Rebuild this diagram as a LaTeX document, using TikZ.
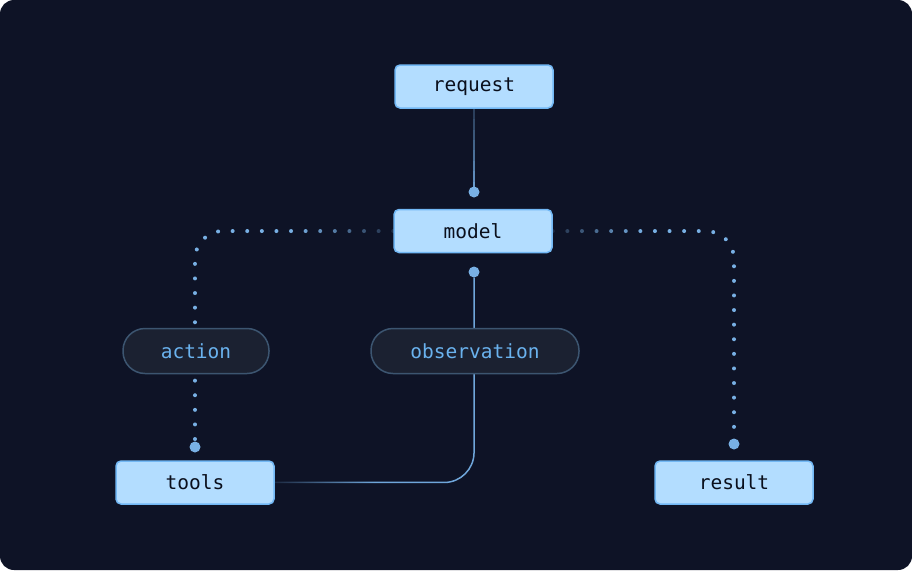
\documentclass[tikz,border=0pt]{standalone}
\usepackage{fontspec}
\setmonofont{DejaVu Sans Mono}
\usetikzlibrary{calc}
\usetikzlibrary{fadings}

\definecolor{bgcol}{HTML}{0E1326}
\definecolor{boxfill}{HTML}{B3DDFF}
\definecolor{boxline}{HTML}{72B8F5}
\definecolor{boxtext}{HTML}{0A0F1C}
\definecolor{pillfill}{HTML}{1B2131}
\definecolor{pillline}{HTML}{3C5570}
\definecolor{pilltext}{HTML}{6AB2EE}
\definecolor{dotcol}{HTML}{78B0E4}
\definecolor{linecol}{HTML}{6FA6DA}

\pgfdeclarelayer{canvas}
\pgfdeclarelayer{background}
\pgfsetlayers{canvas,background,main}

\tikzfading[name=fade east, left color=transparent!0, right color=transparent!85, middle color=transparent!0]
\tikzfading[name=fade west, left color=transparent!85, right color=transparent!0, middle color=transparent!0]

\begin{document}
\begin{tikzpicture}[x=1pt, y=-1pt,
    every node/.style={font=\ttfamily\fontsize{19.5}{22}\selectfont},
    box/.style={rectangle, rounded corners=5pt, fill=boxfill, draw=boxline,
        line width=1.5pt, minimum width=158pt, minimum height=43pt, text=boxtext},
    pill/.style={rectangle, rounded corners=22pt, fill=pillfill, draw=pillline,
        line width=1.5pt, minimum height=45pt, text=pilltext},
    joint/.style={circle, fill=dotcol, inner sep=0pt, minimum size=11pt},
    dotline/.style={dotcol, line width=4pt, line cap=round,
        dash pattern=on 0pt off 14.6pt, rounded corners=28pt},
    flowline/.style={linecol, line width=1.5pt}]

% --- canvas ---
\useasboundingbox (0,0) rectangle (912,570);
\begin{pgfonlayer}{canvas}
    \fill[bgcol, rounded corners=14pt] (0,0) rectangle (912,570);
\end{pgfonlayer}

% --- boxes ---
\node[box] (request) at (474,86.5) {request};
\node[box] (model) at (473,231) {model};
\node[box] (tools) at (195,482.5) {tools};
\node[box] (result) at (734,482.5) {result};

% --- edge labels ---
\node[pill, minimum width=146pt] (action) at (196,351) {action};
\node[pill, minimum width=208pt] (observation) at (475,351) {observation};

% --- joints ---
\node[joint] (dot_model_in) at (474,192) {};
\node[joint] (dot_model_out) at (474,272) {};
\node[joint] (dot_tools) at (195,447) {};
\node[joint] (dot_result) at (734,444) {};

% --- connectors (behind the labels) ---
\begin{pgfonlayer}{background}
    % request -> model, fading in from the top
    \foreach \a/\b/\c in {0/0.125/30, 0.125/0.25/38, 0.25/0.375/46, 0.375/0.5/55,
                          0.5/0.625/64, 0.625/0.75/73, 0.75/0.875/82, 0.875/1/92}
        \draw[flowline, linecol!\c!bgcol]
            ($(request.south)!\a!(dot_model_in)$) -- ($(request.south)!\b!(dot_model_in)$);

    % model -> action -> tools
    \draw[dotline, path fading=fade east] (model.west) -| (dot_tools);

    % model -> result
    \draw[dotline, path fading=fade west] (model.east) -| (dot_result);

    % tools -> observation -> model
    \draw[flowline, rounded corners=30pt, path fading=fade west]
        (dot_model_out) |- (tools.east);
\end{pgfonlayer}

\end{tikzpicture}
\end{document}
